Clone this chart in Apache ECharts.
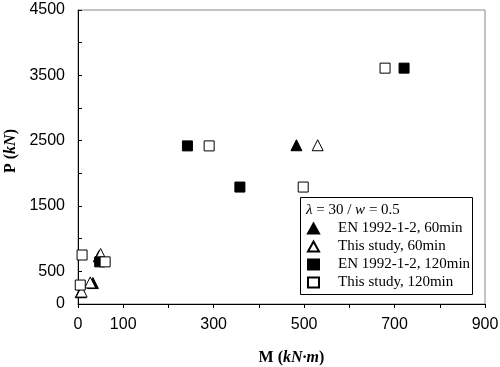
<!DOCTYPE html>
<html><head><meta charset="utf-8">
<script src="https://cdn.jsdelivr.net/npm/echarts@6/dist/echarts.min.js"></script>
<style>html,body{margin:0;padding:0;background:#fff}#c{width:500px;height:367px}</style>
</head><body><div id="c"></div>
<script>
const xTickLabels = [0, 100, 300, 500, 700, 900];
const yTickLabels = [0, 500, 1500, 2500, 3500, 4500];
const seriesNames = ['EN 1992-1-2, 60min', 'This study, 60min', 'EN 1992-1-2, 120min', 'This study, 120min'];
const en60 = [[483, 2430], [46, 730], [33, 320], [6, 180]];
const study60 = [[530, 2430], [50, 765], [27, 330], [8, 190]];
const en120 = [[242, 2420], [358, 1790], [721, 3610], [48, 645]];
const study120 = [[290, 2420], [498, 1790], [679, 3610], [60, 645], [9, 750], [5, 290]];

const chart = echarts.init(document.getElementById('c'));
const serif = '"Liberation Serif", "DejaVu Serif", serif';
const sans = '"Liberation Sans", Arial, sans-serif';
function mk(name, data, symbol, filled, size) {
  return {
    name, type: 'scatter', data, symbol, symbolSize: size,
    itemStyle: { color: filled ? '#000' : '#fff', borderColor: '#000', borderWidth: 1, opacity: 1 },
    emphasis: { disabled: true }
  };
}
function rich(sz) {
  return {
    b: { fontFamily: serif, fontWeight: 'bold', fontSize: sz, color: '#000' },
    i: { fontFamily: serif, fontWeight: 'bold', fontStyle: 'italic', fontSize: sz, color: '#000' }
  };
}
chart.setOption({
  animation: false,
  backgroundColor: '#fff',
  grid: { left: 78, right: 15, top: 10, bottom: 63, show: true, borderColor: '#888', borderWidth: 1,
    containLabel: false, outerBoundsMode: 'none' },
  xAxis: {
    type: 'value', min: 0, max: 900, interval: 100,
    name: '{b|M (}{i|kN·m}{b|)}', nameLocation: 'middle', nameGap: 46,
    nameTextStyle: { rich: rich(16), padding: [0, 0, 0, 20] },
    axisLine: { lineStyle: { color: '#000', width: 1 } },
    axisTick: { inside: false, length: 4, lineStyle: { color: '#000' } },
    splitLine: { show: false },
    axisLabel: { fontFamily: sans, fontSize: 16, color: '#000', margin: 13,
      formatter: v => xTickLabels.includes(v) ? String(v) : '' }
  },
  yAxis: {
    type: 'value', min: 0, max: 4500, interval: 500,
    name: '{b|P (}{i|kN}{b|)}', nameLocation: 'middle', nameGap: 57,
    nameTextStyle: { rich: rich(16), padding: [0, 0, 0, 12] },
    axisLine: { show: true, lineStyle: { color: '#000', width: 1 } },
    axisTick: { show: true, inside: true, length: 4, lineStyle: { color: '#000' } },
    splitLine: { show: false },
    axisLabel: { fontFamily: sans, fontSize: 16, color: '#000', margin: 13,
      formatter: v => yTickLabels.includes(v) ? String(v) : '' }
  },
  legend: {
    orient: 'vertical', left: 307, top: 221, padding: 0,
    itemWidth: 11, itemHeight: 10, itemGap: 3,
    textStyle: { fontFamily: serif, fontSize: 15, color: '#000', padding: [0, 0, 0, 14] },
    data: [
      { name: seriesNames[0], icon: 'triangle' },
      { name: seriesNames[1], icon: 'triangle' },
      { name: seriesNames[2], icon: 'rect' },
      { name: seriesNames[3], icon: 'rect' }
    ]
  },
  graphic: [
    { type: 'rect', shape: { x: 300.5, y: 197.5, width: 172, height: 97 },
      style: { fill: '#fff', stroke: '#000', lineWidth: 1 }, z: 0, silent: true },
    { type: 'text', left: 306, top: 203, z: 10,
      style: { text: '{i|λ} = 30 / {i|w} = 0.5',
        rich: { i: { fontFamily: serif, fontStyle: 'italic', fontSize: 15, fill: '#000' } },
        font: '15px ' + serif, fill: '#000' } }
  ],
  series: [
    mk(seriesNames[0], en60, 'triangle', true, 11),
    mk(seriesNames[1], study60, 'triangle', false, 11),
    mk(seriesNames[2], en120, 'rect', true, 10),
    mk(seriesNames[3], study120, 'rect', false, 10)
  ]
});
</script></body></html>
